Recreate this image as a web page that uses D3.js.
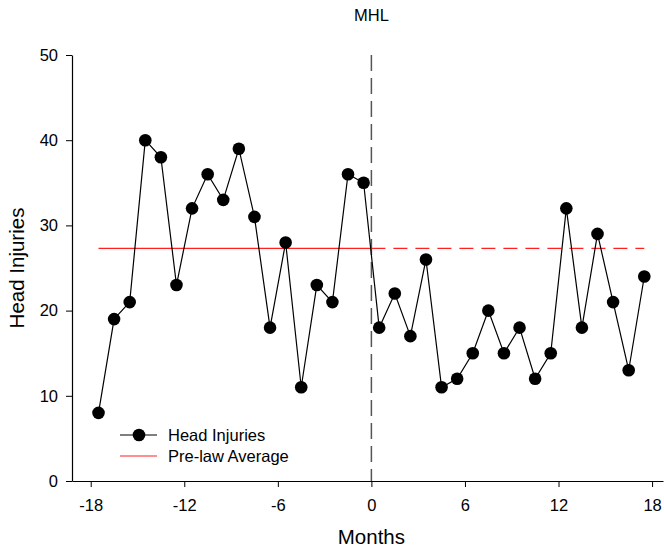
<!DOCTYPE html>
<html>
<head>
<meta charset="utf-8">
<script src="https://cdn.jsdelivr.net/npm/d3@7"></script>
<style>
	body { margin: 0; background: white; }
	text { font-family: "Liberation Sans", Arial, sans-serif; }
</style>
</head>
<body>
<div id="viz"></div>
<script>
// months, centred in each month
let months = [-17.5, -16.5, -15.5, -14.5, -13.5, -12.5, -11.5, -10.5, -9.5, -8.5, -7.5, -6.5, -5.5, -4.5, -3.5, -2.5, -1.5, -0.5,
	0.5, 1.5, 2.5, 3.5, 4.5, 5.5, 6.5, 7.5, 8.5, 9.5, 10.5, 11.5, 12.5, 13.5, 14.5, 15.5, 16.5, 17.5];
let injuries = [8, 19, 21, 40, 38, 23, 32, 36, 33, 39, 31, 18, 28, 11, 23, 21, 36, 35,
	18, 22, 17, 26, 11, 12, 15, 20, 15, 18, 12, 15, 32, 18, 29, 21, 13, 24];
let preLawAvg = 27.3;
let avgStart = -17.5, lawMonth = 0, avgEnd = 17.5;
let xTicks = [-18, -12, -6, 0, 6, 12, 18];
let yTicks = [0, 10, 20, 30, 40, 50];
let legendNames = ["Head Injuries", "Pre-law Average"];

let width = 664, height = 550;
let svg = d3.select("#viz").append("svg")
	.attr("width", width).attr("height", height);

let x = d3.scaleLinear().domain([-19.2, 18.7]).range([72, 663]);
let y = d3.scaleLinear().domain([0, 50]).range([481, 55]);

// axes (plain hyphen for negatives, like the original)
let fmt = d => String(d);
let xAxis = svg.append("g")
	.attr("transform", "translate(0," + y(0) + ")")
	.call(d3.axisBottom(x).tickValues(xTicks).tickFormat(fmt).tickSize(6).tickPadding(9).tickSizeOuter(0));
let yAxis = svg.append("g")
	.attr("transform", "translate(" + x.range()[0] + ",0)")
	.call(d3.axisLeft(y).tickValues(yTicks).tickFormat(fmt).tickSize(6).tickPadding(8).tickSizeOuter(0));
[xAxis, yAxis].forEach(a => {
	a.selectAll("text").style("font-size", "16.5px").attr("fill", "black")
		.style("font-family", "'Liberation Sans', Arial, sans-serif");
	a.selectAll("line").attr("stroke", "black");
	a.select(".domain").attr("stroke", "black").attr("stroke-width", 1.2);
});
xAxis.selectAll("text").attr("dy", "0.9em");

// law line
svg.append("line")
	.attr("x1", x(lawMonth)).attr("x2", x(lawMonth))
	.attr("y1", y(50)).attr("y2", y(0))
	.attr("stroke", "#555").attr("stroke-width", 1.5)
	.attr("stroke-dasharray", "16,7");

// pre-law average
svg.append("line")
	.attr("x1", x(avgStart)).attr("x2", x(lawMonth))
	.attr("y1", y(preLawAvg)).attr("y2", y(preLawAvg))
	.attr("stroke", "#ff2020").attr("stroke-width", 1.2);
svg.append("line")
	.attr("x1", x(lawMonth)).attr("x2", x(avgEnd))
	.attr("y1", y(preLawAvg)).attr("y2", y(preLawAvg))
	.attr("stroke", "#ff2020").attr("stroke-width", 1.2)
	.attr("stroke-dasharray", "14,8");

// series
let pts = months.map((m, i) => ({m: m, v: injuries[i]}));
let line = d3.line().x(d => x(d.m)).y(d => y(d.v));
svg.append("path")
	.attr("d", line(pts))
	.attr("fill", "none").attr("stroke", "black").attr("stroke-width", 1.2);
svg.selectAll("circle.pt").data(pts).enter().append("circle")
	.attr("class", "pt")
	.attr("cx", d => x(d.m)).attr("cy", d => y(d.v))
	.attr("r", 6.3).attr("fill", "black");

// legend
let lg = svg.append("g").attr("transform", "translate(120,435)");
lg.append("line").attr("x1", 0).attr("x2", 37).attr("y1", 0).attr("y2", 0)
	.attr("stroke", "black").attr("stroke-width", 1.2);
lg.append("circle").attr("cx", 19).attr("cy", 0).attr("r", 6.3).attr("fill", "black");
lg.append("line").attr("x1", 0).attr("x2", 37).attr("y1", 21).attr("y2", 21)
	.attr("stroke", "#ff2020").attr("stroke-width", 1.2);
lg.selectAll("text.lg").data(legendNames).enter().append("text")
	.attr("x", 48).attr("y", (d, i) => i * 21)
	.attr("dy", "0.35em")
	.style("font-size", "16.5px")
	.text(d => d);

// titles
svg.append("text").attr("x", x(lawMonth)).attr("y", 21)
	.attr("text-anchor", "middle").style("font-size", "16.5px").text("MHL");
svg.append("text").attr("x", x(lawMonth)).attr("y", 544)
	.attr("text-anchor", "middle").style("font-size", "20.5px").text("Months");
svg.append("text")
	.attr("transform", "translate(24," + y(25) + ") rotate(-90)")
	.attr("text-anchor", "middle").style("font-size", "20.5px").text("Head Injuries");
</script>
</body>
</html>
